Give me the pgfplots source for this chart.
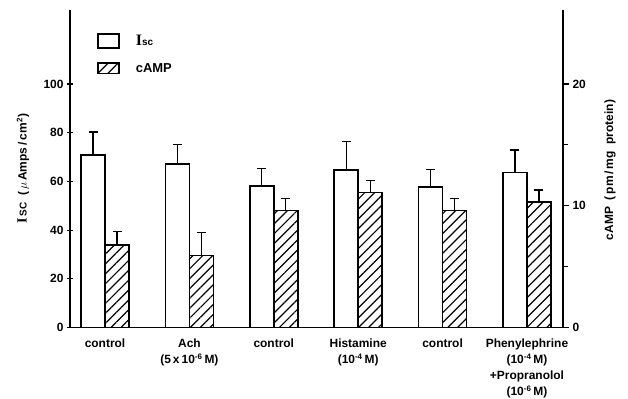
\documentclass[border=0pt]{standalone}
\usepackage{pgfplots}
\usepackage{pgfplotstable}
\pgfplotsset{compat=1.18}
\usepackage{fontspec}
\setmainfont{Liberation Sans}
\newfontfamily\serifI{Liberation Serif}
\usetikzlibrary{patterns.meta}

% short-circuit current (left scale) and cAMP (right scale), mean and upper error
\pgfplotstableread{
x isc iscerr camp camperr
0 70.8 9.5  6.8  1.1
1 67.1 7.9  5.9  1.9
2 58.2 7.2  9.6  1.0
3 64.7 11.6 11.1 1.0
4 57.7 7.3  9.6  1.0
5 63.6 9.3  10.3 1.0
}\datatable

% half of the bar width, in axis units
\def\halfbar{0.142}

\tikzset{
  iscbar/.style={draw=black, line width=1.6bp, fill=white},
  campbar/.style={draw=black, line width=1.6bp,
    pattern={Lines[angle=45,distance=7bp,line width=1.2bp]}},
}
\pgfplotsset{
  base/.style={
    scale only axis, width=493bp, height=317.5bp,
    at={(70bp,-327.5bp)}, anchor=south west,
    xmin=-0.415, xmax=5.427, ymin=0,
    tick style={line width=1.2bp, black},
    major tick length=6bp, minor tick length=5bp,
    tick align=outside,
    /pgf/number format/assume math mode=true,
    yticklabel style={font=\fontsize{12}{12}\selectfont\bfseries},
    clip=false,
  },
  % upper error bars with a short horizontal cap
  errstyle/.style={
    /pgfplots/error bars/y dir=plus,
    /pgfplots/error bars/y explicit,
    /pgfplots/error bars/error mark=|,
    /pgfplots/error bars/error bar style={line width=1.1bp, black},
    /pgfplots/error bars/error mark options={line width=1.2bp, black, mark size=4.5bp},
  },
}

\begin{document}
\begin{tikzpicture}
\useasboundingbox (0,0) rectangle (628bp,-399bp);

\begin{axis}[base,
  ymax=130.4,
  axis x line=bottom, axis y line=left,
  axis line style={-, line width=1.5bp},
  ytick={0,20,...,100},
  xtick={0,...,5},
  major x tick style={draw=none},
  xticklabels={
    {control},
    {Ach\\(5\,x\,10\textsuperscript{-6}\,M)},
    {control},
    {Histamine\\(10\textsuperscript{-4}\,M)},
    {control},
    {Phenylephrine\\(10\textsuperscript{-4}\,M)\\+Propranolol\\(10\textsuperscript{-6}\,M)}},
  xticklabel style={align=center, anchor=north, yshift=-5bp,
    font=\fontsize{12}{16}\selectfont\bfseries},
  ylabel={{\serifI\fontsize{14}{14}\selectfont I}\,{\fontsize{10}{10}\selectfont SC}\ \ (\,$\mu$\,Amps\,/\,cm\textsuperscript{2})},
  ylabel style={at={(axis description cs:-0.0953,0.5)}, anchor=center,
    font=\fontsize{12}{12}\selectfont\bfseries},
]
\addplot[ybar, bar width=24bp, bar shift=0pt, iscbar, errstyle]
  table[x expr=\thisrow{x}-\halfbar, y=isc, y error=iscerr] {\datatable};
\end{axis}

\begin{axis}[base,
  ymax=26.08,
  axis x line=none, axis y line*=right,
  axis line style={-, line width=1.5bp},
  ytick={0,10,20}, minor ytick={5,15},
  ylabel={cAMP\ \ (\,pm\,/\,mg\ \ protein)},
  ylabel style={at={(axis description cs:1.0953,0.496)}, anchor=center,
    font=\fontsize{12}{12}\selectfont\bfseries},
  legend style={at={(rel axis cs:0.0548,0.9276)}, anchor=north west,
    draw=none, fill=none, inner sep=0pt, row sep=12bp,
    font=\fontsize{13}{13}\selectfont\bfseries,
    /tikz/every odd column/.append style={column sep=14bp}},
  legend cell align=left,
]
\addlegendimage{legend image code/.code={\draw[iscbar] (0bp,-7bp) rectangle (21bp,7bp);}}
\addlegendentry{{\serifI\fontsize{16}{16}\selectfont I}{\fontsize{10}{10}\selectfont sc}}
\addplot[ybar, bar width=24bp, bar shift=0pt, campbar,
  legend image code/.code={\draw[campbar] (0bp,-5bp) rectangle (21bp,5bp);},
  errstyle]
  table[x expr=\thisrow{x}+\halfbar, y=camp, y error=camperr] {\datatable};
\addlegendentry{cAMP}
\end{axis}
\end{tikzpicture}
\end{document}
